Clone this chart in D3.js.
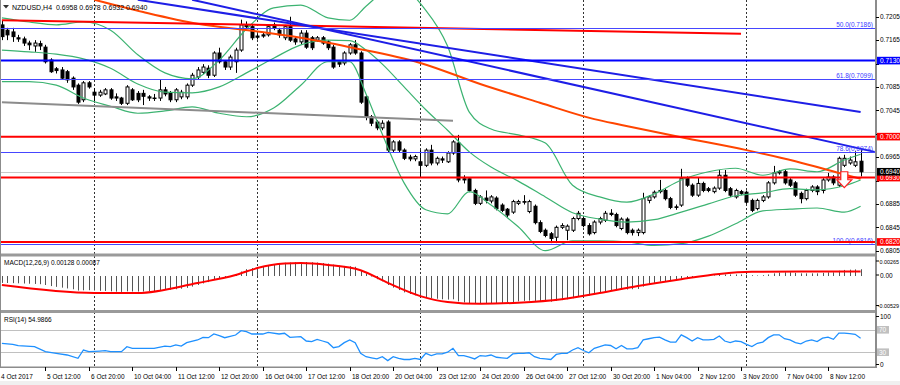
<!DOCTYPE html>
<html><head><meta charset="utf-8">
<script src="https://cdn.jsdelivr.net/npm/d3@7/dist/d3.min.js"></script>
<style>
html,body{margin:0;padding:0;background:#fff;}
svg{display:block;font-family:"Liberation Sans",Arial,sans-serif;}
</style></head><body>
<svg id="chart" width="900" height="385"></svg>
<script>
// ---- data ----
const titleText = "NZDUSD,H4  0.6958 0.6978 0.6932 0.6940";
const macdText = "MACD(12,26,9) 0.00128 0.00087";
const rsiText = "RSI(14) 54.9866";

const timeLabels = ["4 Oct 2017","5 Oct 12:00","6 Oct 20:00","10 Oct 04:00","11 Oct 12:00","12 Oct 20:00",
  "16 Oct 04:00","17 Oct 12:00","18 Oct 20:00","20 Oct 04:00","23 Oct 12:00","24 Oct 20:00","26 Oct 04:00",
  "27 Oct 12:00","30 Oct 20:00","1 Nov 04:00","2 Nov 12:00","3 Nov 20:00","7 Nov 04:00","8 Nov 12:00"];
const timeLabelBars = [0,8,16,24,32,40,48,56,64,72,80,88,96,104,112,120,128,136,144,152];
const gridBars = [17,47,77,107,137];

const priceTicks = [0.6805,0.6845,0.6885,0.6925,0.6965,0.7005,0.7045,0.7085,0.7125,0.7165,0.7205];

const opens = [0.7191,0.7182,0.7179,0.7169,0.7167,0.7160,0.7155,0.7159,0.7153,0.7131,0.7116,0.7114,0.7111,0.7100,0.7088,0.7063,0.7092,0.7076,0.7071,0.7073,
  0.7080,0.7068,0.7066,0.7057,0.7080,0.7074,0.7074,0.7068,0.7066,0.7066,0.7080,0.7075,0.7063,0.7068,0.7068,0.7088,0.7102,0.7110,0.7117,0.7105,
  0.7143,0.7128,0.7119,0.7128,0.7148,0.7191,0.7188,0.7172,0.7174,0.7174,0.7191,0.7182,0.7169,0.7188,0.7167,0.7162,0.7177,0.7169,0.7165,0.7169,
  0.7162,0.7153,0.7128,0.7126,0.7143,0.7157,0.7143,0.7068,0.7034,0.7025,0.7015,0.7025,0.6977,0.6991,0.6977,0.6965,0.6962,0.6957,0.6951,0.6977,
  0.6955,0.6962,0.6957,0.6972,0.6989,0.6928,0.6928,0.6908,0.6886,0.6895,0.6890,0.6895,0.6883,0.6876,0.6871,0.6886,0.6889,0.6872,0.6881,0.6853,
  0.6840,0.6834,0.6828,0.6845,0.6840,0.6840,0.6860,0.6860,0.6848,0.6836,0.6854,0.6857,0.6869,0.6867,0.6843,0.6859,0.6840,0.6836,0.6836,0.6891,
  0.6897,0.6906,0.6908,0.6894,0.6880,0.6883,0.6929,0.6917,0.6900,0.6920,0.6911,0.6906,0.6912,0.6934,0.6911,0.6897,0.6906,0.6905,0.6891,0.6877,
  0.6891,0.6897,0.6921,0.6938,0.6940,0.6926,0.6921,0.6903,0.6894,0.6908,0.6914,0.6908,0.6926,0.6931,0.6917,0.6951,0.6955,0.6951,0.6958];
const highs = [0.7199,0.7186,0.7186,0.7174,0.7171,0.7164,0.7165,0.7164,0.7157,0.7134,0.7119,0.7119,0.7114,0.7103,0.7091,0.7095,0.7095,0.7083,0.7080,0.7083,
  0.7083,0.7074,0.7068,0.7088,0.7083,0.7078,0.7080,0.7071,0.7073,0.7097,0.7085,0.7078,0.7083,0.7080,0.7091,0.7109,0.7119,0.7124,0.7122,0.7146,
  0.7152,0.7131,0.7140,0.7152,0.7200,0.7197,0.7193,0.7176,0.7179,0.7191,0.7195,0.7186,0.7191,0.7205,0.7171,0.7182,0.7182,0.7172,0.7172,0.7172,
  0.7165,0.7157,0.7131,0.7146,0.7160,0.7165,0.7146,0.7071,0.7037,0.7028,0.7028,0.7028,0.6994,0.6994,0.6980,0.6969,0.6969,0.6977,0.6980,0.6986,
  0.6966,0.6966,0.6975,0.6994,0.7003,0.6934,0.6931,0.6911,0.6900,0.6908,0.6900,0.6898,0.6886,0.6878,0.6892,0.6892,0.6900,0.6892,0.6884,0.6857,
  0.6843,0.6837,0.6848,0.6852,0.6850,0.6863,0.6873,0.6863,0.6852,0.6857,0.6863,0.6873,0.6876,0.6870,0.6862,0.6862,0.6843,0.6843,0.6904,0.6900,
  0.6908,0.6926,0.6911,0.6897,0.6884,0.6945,0.6932,0.6920,0.6931,0.6923,0.6914,0.6915,0.6943,0.6943,0.6914,0.6911,0.6909,0.6908,0.6894,0.6894,
  0.6900,0.6924,0.6950,0.6943,0.6943,0.6929,0.6924,0.6906,0.6911,0.6917,0.6917,0.6929,0.6938,0.6934,0.6966,0.6969,0.6966,0.6975,0.6978];
const lows = [0.7165,0.7165,0.7162,0.7162,0.7155,0.7148,0.7145,0.7148,0.7125,0.7109,0.7108,0.7097,0.7092,0.7080,0.7056,0.7059,0.7082,0.7058,0.7068,0.7071,
  0.7063,0.7061,0.7054,0.7054,0.7061,0.7059,0.7054,0.7061,0.7061,0.7061,0.7069,0.7059,0.7059,0.7064,0.7064,0.7085,0.7098,0.7107,0.7100,0.7102,
  0.7125,0.7114,0.7114,0.7109,0.7145,0.7184,0.7165,0.7166,0.7169,0.7171,0.7182,0.7169,0.7165,0.7162,0.7157,0.7157,0.7150,0.7148,0.7162,0.7157,
  0.7148,0.7116,0.7119,0.7122,0.7140,0.7140,0.7056,0.7028,0.7018,0.7011,0.7011,0.6973,0.6973,0.6973,0.6960,0.6958,0.6958,0.6931,0.6948,0.6951,
  0.6951,0.6955,0.6955,0.6969,0.6922,0.6920,0.6905,0.6883,0.6883,0.6886,0.6886,0.6874,0.6871,0.6862,0.6868,0.6883,0.6884,0.6869,0.6850,0.6835,
  0.6828,0.6818,0.6818,0.6842,0.6823,0.6837,0.6857,0.6845,0.6831,0.6833,0.6850,0.6854,0.6864,0.6845,0.6840,0.6833,0.6831,0.6830,0.6833,0.6886,
  0.6894,0.6903,0.6891,0.6876,0.6875,0.6880,0.6914,0.6897,0.6897,0.6905,0.6905,0.6903,0.6909,0.6905,0.6897,0.6894,0.6900,0.6885,0.6871,0.6874,
  0.6888,0.6894,0.6918,0.6935,0.6918,0.6914,0.6897,0.6886,0.6891,0.6905,0.6900,0.6903,0.6923,0.6917,0.6914,0.6948,0.6952,0.6948,0.6932];
const closes = [0.7171,0.7174,0.7171,0.7167,0.7160,0.7157,0.7160,0.7155,0.7128,0.7111,0.7113,0.7100,0.7097,0.7085,0.7059,0.7092,0.7085,0.7071,0.7076,0.7080,
  0.7066,0.7066,0.7057,0.7085,0.7063,0.7063,0.7069,0.7066,0.7066,0.7080,0.7073,0.7063,0.7080,0.7076,0.7088,0.7105,0.7114,0.7119,0.7105,0.7143,
  0.7128,0.7119,0.7136,0.7148,0.7191,0.7188,0.7169,0.7170,0.7172,0.7188,0.7186,0.7174,0.7188,0.7165,0.7162,0.7177,0.7153,0.7152,0.7169,0.7160,
  0.7152,0.7119,0.7124,0.7143,0.7157,0.7143,0.7059,0.7034,0.7023,0.7015,0.7023,0.6977,0.6991,0.6977,0.6963,0.6962,0.6966,0.6951,0.6977,0.6955,
  0.6963,0.6960,0.6972,0.6991,0.6926,0.6926,0.6908,0.6886,0.6897,0.6891,0.6897,0.6877,0.6874,0.6866,0.6889,0.6889,0.6888,0.6889,0.6853,0.6838,
  0.6831,0.6826,0.6845,0.6848,0.6847,0.6860,0.6869,0.6848,0.6834,0.6854,0.6860,0.6869,0.6867,0.6848,0.6859,0.6836,0.6836,0.6840,0.6894,0.6897,
  0.6905,0.6908,0.6894,0.6879,0.6879,0.6929,0.6917,0.6900,0.6920,0.6908,0.6908,0.6912,0.6934,0.6908,0.6900,0.6908,0.6903,0.6888,0.6874,0.6891,
  0.6897,0.6921,0.6938,0.6940,0.6921,0.6917,0.6900,0.6894,0.6908,0.6914,0.6906,0.6926,0.6931,0.6921,0.6963,0.6963,0.6960,0.6957,0.6940];

// Bollinger bands (20,2) read at sample bars
const bbBars = [0,5,10,15,20,25,30,35,40,45,50,55,60,64,67,70,74,78,82,86,90,95,100,105,110,115,120,125,130,135,140,145,150,155,158];
const bbUpper = [0.7203,0.7196,0.7191,0.7196,0.7182,0.7140,0.7109,0.7099,0.7131,0.7184,0.7220,0.7225,0.7203,0.7199,0.7223,0.7244,0.7249,0.7216,0.7155,0.7042,
  0.7013,0.7003,0.6989,0.6917,0.6897,0.6888,0.6902,0.6926,0.6940,0.6946,0.6934,0.6945,0.6940,0.6960,0.6970];
const bbMiddle = [0.7148,0.7145,0.7141,0.7133,0.7117,0.7090,0.7076,0.7075,0.7085,0.7109,0.7134,0.7157,0.7165,0.7164,0.7148,0.7124,0.7085,0.7046,0.7011,0.6974,
  0.6948,0.6924,0.6897,0.6870,0.6859,0.6854,0.6858,0.6871,0.6885,0.6899,0.6904,0.6911,0.6909,0.6916,0.6926];
const bbLower = [0.7094,0.7094,0.7088,0.7066,0.7052,0.7040,0.7044,0.7051,0.7040,0.7034,0.7049,0.7088,0.7128,0.7128,0.7073,0.7004,0.6921,0.6875,0.6868,0.6906,
  0.6883,0.6846,0.6805,0.6822,0.6822,0.6820,0.6814,0.6817,0.6830,0.6851,0.6873,0.6876,0.6878,0.6871,0.6881];

// slow moving average (orange)
const maBars = [17,26,36,46,55,64,77,88,99,109,114,125,137,146,154,158];
const maValues = [0.7234,0.7213,0.7193,0.7181,0.7169,0.7153,0.7126,0.7090,0.7058,0.7030,0.7020,0.6999,0.6977,0.6958,0.6938,0.6928];

// drawn objects
const hLevels = [0.7130,0.7000,0.6930,0.6820];
const hColors = ["#0000ff","#ff0000","#ff0000","#ff0000"];
const fiboNames = ["50.0","61.8","78.6","100.0"];
const fiboValues = [0.7186,0.7099,0.6974,0.6816];
const bidPrice = 0.6940;
const trendLines = [
  {b1:0, p1:0.7199, b2:136, p2:0.7176, color:"#ff0000"},
  {b1:0, p1:0.7059, b2:83, p2:0.7027, color:"#8c8c8c"},
  {b1:25, p1:0.7234, b2:158, p2:0.7042, color:"#1e1ee6"},
  {b1:35, p1:0.7234, b2:160.6, p2:0.6974, color:"#1e1ee6"}
];
const sellArrow = {bar:155, price:0.6940};

const tagValues = [0.7130,0.7000,0.6930,0.6940,0.6820];
const tagColors = ["#0000ff","#ff0000","#ff0000","#000000","#ff0000"];

// MACD main (histogram), one per bar
const macdMain = [-0.00130,-0.00132,-0.00135,-0.00138,-0.00142,-0.00146,-0.00150,-0.00155,-0.00170,-0.00190,-0.00205,
  -0.00220,-0.00235,-0.00250,-0.00275,-0.00270,-0.00268,-0.00275,-0.00280,-0.00282,-0.00290,-0.00295,-0.00300,
  -0.00290,-0.00292,-0.00293,-0.00292,-0.00290,-0.00285,-0.00275,-0.00265,-0.00260,-0.00250,-0.00240,-0.00225,
  -0.00200,-0.00170,-0.00140,-0.00115,-0.00070,-0.00045,-0.00025,0.00000,0.00025,0.00085,0.00130,0.00150,
  0.00170,0.00185,0.00205,0.00225,0.00235,0.00250,0.00255,0.00260,0.00262,0.00265,0.00260,0.00255,
  0.00245,0.00235,0.00215,0.00195,0.00190,0.00185,0.00175,0.00110,0.00050,-0.00010,-0.00060,-0.00100,
  -0.00170,-0.00220,-0.00265,-0.00310,-0.00340,-0.00365,-0.00390,-0.00400,-0.00420,-0.00430,-0.00440,-0.00445,
  -0.00440,-0.00480,-0.00500,-0.00515,-0.00525,-0.00529,-0.00525,-0.00520,-0.00515,-0.00510,-0.00500,-0.00495,
  -0.00480,-0.00470,-0.00465,-0.00470,-0.00480,-0.00485,-0.00485,-0.00470,-0.00455,-0.00440,-0.00420,-0.00395,
  -0.00380,-0.00370,-0.00345,-0.00320,-0.00300,-0.00280,-0.00270,-0.00260,-0.00255,-0.00250,-0.00245,-0.00200,
  -0.00160,-0.00130,-0.00105,-0.00095,-0.00090,-0.00085,-0.00050,-0.00030,-0.00020,-0.00005,0.00000,0.00005,
  0.00010,0.00025,0.00030,0.00030,0.00030,0.00030,0.00025,0.00015,0.00010,0.00015,0.00030,0.00050,
  0.00065,0.00070,0.00070,0.00060,0.00050,0.00050,0.00050,0.00050,0.00060,0.00070,0.00070,0.00100,
  0.00115,0.00120,0.00125,0.00128];
const signalBars = [0,17,25,36,43,47,52,55,60,66,71,77,82,88,95,103,110,117,125,132,138,147,158];
const signalValues = [-0.00170,-0.00321,-0.00321,-0.00132,0.00019,0.00150,0.00235,0.00245,0.00210,0.00110,-0.00130,-0.00380,
  -0.00490,-0.00525,-0.00505,-0.00440,-0.00320,-0.00190,-0.00060,0.00040,0.00080,0.00085,0.00087];

// RSI(14)
const rsiBars = [0,2,3,6,8,10,12,14,15,16,18,19,20,22,23,24,27,28,30,31,32,33,34,36,37,38,39,40,41,43,44,45,46,48,49,51,52,53,55,
  56,57,58,59,60,61,62,63,64,65,66,67,68,69,70,71,72,73,74,75,76,77,78,79,80,81,82,83,84,85,86,87,88,89,90,
  91,92,93,94,95,96,97,98,99,100,101,102,103,104,105,106,107,108,109,110,111,112,113,114,115,116,117,118,119,120,
  121,122,123,124,125,126,127,128,129,130,131,132,133,134,135,136,137,138,139,140,141,142,143,144,145,146,147,148,149,150,
  151,152,153,154,155,156,157,158];
const rsiValues = [45.9,44.1,41.6,39.8,30.9,28,25,19.1,33.9,30.9,32,32.7,30.9,30.9,39.8,37,37,37,41,39.8,42.9,41,47,51.8,56.6,55.9,62.5,59.5,55.9,60.7,68.4,66.6,62.5,62.5,65.5,62.5,63.8,56.6,57.7,
  50,49,53,50,47,38,40,47,52,47,28,22,20,18,22,15,22,19,17,17,19,17,28,24,27,27,30,37,24,24,21,18,24,23,25,
  21,20,19,27,28,28,29,22,19,18,17,26,28,28,34,38,33,29,37,40,43,42,36,42,36,36,38,52,54,56,
  57,52,48,48,61,56,50,56,52,52,53,59,50,47,50,49,44,40,46,48,56,61,61,54,52,47,45,50,52,49,
  55,57,53,64,64,63,62,55];

// ---- layout ----
const plotRight = 876;
const pricePane = [0, 253], macdPane = [257, 310], rsiPane = [313, 366];
const axisY = 367;

const svg = d3.select("#chart");
const x = d3.scaleLinear().domain([0, 158]).range([1.9, 860.6]);
const yP = d3.scaleLinear().domain([0.68011, 0.72336]).range([253, 0]);
const yM = d3.scaleLinear().domain([-0.00529, 0.00265]).range([304, 262]);
const yR = d3.scaleLinear().domain([0, 100]).range([369, 313]);
const px = i => Math.round(x(i)) + 0.5;

svg.append("rect").attr("width", 900).attr("height", 385).attr("fill", "#fff");
svg.append("rect").attr("x", 0).attr("y", 381).attr("width", 900).attr("height", 4).attr("fill", "#f0f0f0");

const defs = svg.append("defs");
[["clipP", pricePane], ["clipM", macdPane], ["clipR", rsiPane]].forEach(([id, r]) => {
  defs.append("clipPath").attr("id", id).append("rect")
    .attr("x", 0).attr("y", r[0]).attr("width", plotRight).attr("height", r[1] - r[0]);
});

// vertical dotted grid through all panes
svg.append("g").selectAll("line").data(gridBars).join("line")
  .attr("x1", d => px(d)).attr("x2", d => px(d))
  .attr("y1", 0).attr("y2", axisY)
  .attr("stroke", "#333").attr("stroke-dasharray", "2,2").attr("stroke-width", 1);

// ---- price pane ----
const pg = svg.append("g").attr("clip-path", "url(#clipP)");

// bid line
pg.append("line").attr("x1", 0).attr("x2", plotRight)
  .attr("y1", Math.round(yP(bidPrice)) + 0.5).attr("y2", Math.round(yP(bidPrice)) + 0.5)
  .attr("stroke", "#c8c8c8");

const bars = d3.range(opens.length).map(i => ({i, o: opens[i], h: highs[i], l: lows[i], c: closes[i]}));
const cg = pg.append("g");
cg.selectAll("line").data(bars).join("line")
  .attr("x1", d => px(d.i)).attr("x2", d => px(d.i))
  .attr("y1", d => yP(d.h)).attr("y2", d => yP(d.l))
  .attr("stroke", "#000");
cg.selectAll("rect").data(bars).join("rect")
  .attr("x", d => px(d.i) - 1.5).attr("width", 3)
  .attr("y", d => yP(Math.max(d.o, d.c)))
  .attr("height", d => Math.max(0.5, Math.abs(yP(d.o) - yP(d.c))))
  .attr("fill", d => d.c >= d.o ? "#fff" : "#000")
  .attr("stroke", "#000");

// bollinger bands
const bbLine = arr => d3.line().x((d, k) => x(bbBars[k])).y(d => yP(d)).curve(d3.curveMonotoneX)(arr);
[bbUpper, bbMiddle, bbLower].forEach(arr => {
  pg.append("path").attr("d", bbLine(arr)).attr("fill", "none")
    .attr("stroke", "#3cb371").attr("stroke-width", 1.2);
});

// moving average
pg.append("path")
  .attr("d", d3.line().x((d, k) => x(maBars[k])).y(d => yP(d)).curve(d3.curveMonotoneX)(maValues))
  .attr("fill", "none").attr("stroke", "#ff4500").attr("stroke-width", 2);

// trend lines
pg.selectAll("line.tl").data(trendLines).join("line").attr("class", "tl")
  .attr("x1", d => x(d.b1)).attr("y1", d => yP(d.p1))
  .attr("x2", d => x(d.b2)).attr("y2", d => yP(d.p2))
  .attr("stroke", d => d.color).attr("stroke-width", 2);

// fibonacci levels
const fib = pg.append("g");
fib.selectAll("line").data(fiboValues).join("line")
  .attr("x1", 0).attr("x2", plotRight)
  .attr("y1", d => Math.round(yP(d)) + 0.5).attr("y2", d => Math.round(yP(d)) + 0.5)
  .attr("stroke", "#4646ff").attr("stroke-width", 1);
fib.selectAll("text").data(fiboValues).join("text")
  .attr("x", 873).attr("y", d => Math.round(yP(d)) - 1.5)
  .attr("text-anchor", "end").attr("font-size", 6.5).attr("fill", "#3c3cff")
  .text((d, k) => `${fiboNames[k]}(${d.toFixed(4)})`);

// horizontal lines
pg.selectAll("line.hl").data(hLevels).join("line").attr("class", "hl")
  .attr("x1", 0).attr("x2", plotRight)
  .attr("y1", d => yP(d)).attr("y2", d => yP(d))
  .attr("stroke", (d, k) => hColors[k]).attr("stroke-width", 2);

// sell arrow
const ax = x(sellArrow.bar), ay = yP(sellArrow.price);
pg.append("path")
  .attr("d", `M${ax - 3.5},${ay} h7 v8 h4 l-7.5,8 l-7.5,-8 h4 z`)
  .attr("fill", "#fff").attr("stroke", "#ff2020").attr("stroke-width", 1.2);

// ---- MACD pane ----
const mg = svg.append("g").attr("clip-path", "url(#clipM)");
mg.selectAll("line").data(macdMain).join("line")
  .attr("x1", (d, i) => px(i)).attr("x2", (d, i) => px(i))
  .attr("y1", yM(0)).attr("y2", d => yM(d))
  .attr("stroke", "#555").attr("stroke-width", 1);
mg.append("path")
  .attr("d", d3.line().x((d, k) => x(signalBars[k])).y(d => yM(d)).curve(d3.curveMonotoneX)(signalValues))
  .attr("fill", "none").attr("stroke", "#ff0000").attr("stroke-width", 2);

// ---- RSI pane ----
const rg = svg.append("g").attr("clip-path", "url(#clipR)");
[70, 30].forEach(v => {
  rg.append("line").attr("x1", 0).attr("x2", plotRight)
    .attr("y1", Math.round(yR(v)) + 0.5).attr("y2", Math.round(yR(v)) + 0.5)
    .attr("stroke", "#c0c0c0");
});
rg.append("path")
  .attr("d", d3.line().x((d, k) => x(rsiBars[k])).y(d => yR(d))(rsiValues))
  .attr("fill", "none").attr("stroke", "#1e90ff").attr("stroke-width", 1.3);

// ---- frames and separators ----
svg.append("rect").attr("x", 0).attr("y", 253.5).attr("width", plotRight).attr("height", 3).attr("fill", "#9a9a9a");
svg.append("rect").attr("x", 0).attr("y", 310).attr("width", plotRight).attr("height", 3).attr("fill", "#9a9a9a");
svg.append("line").attr("x1", 0.5).attr("x2", 0.5).attr("y1", 0).attr("y2", axisY).attr("stroke", "#8c8c8c");
svg.append("rect").attr("x", plotRight - 1).attr("y", 0).attr("width", 2).attr("height", axisY + 1).attr("fill", "#8c8c8c");
svg.append("rect").attr("x", 0).attr("y", axisY - 0.5).attr("width", plotRight + 1).attr("height", 1.5).attr("fill", "#8c8c8c");

// ---- right price axis ----
// labels hidden under a coloured price tag are left out, as in the terminal
const freeTicks = priceTicks.filter(t => !tagValues.some(v => Math.abs(v - t) < 0.0009));
const ra = svg.append("g").attr("font-size", 6.5).attr("fill", "#000");
ra.selectAll("line").data(priceTicks).join("line")
  .attr("x1", plotRight).attr("x2", plotRight + 3)
  .attr("y1", d => Math.round(yP(d)) + 0.5).attr("y2", d => Math.round(yP(d)) + 0.5)
  .attr("stroke", "#000");
ra.selectAll("text").data(freeTicks).join("text")
  .attr("x", 880).attr("y", d => yP(d) + 2.3)
  .text(d => d.toFixed(4));

const tags = svg.append("g").attr("font-size", 6.5);
tagValues.forEach((v, k) => {
  const cy = yP(v);
  tags.append("rect").attr("x", 877).attr("y", cy - 3.8).attr("width", 23).attr("height", 7.6).attr("fill", tagColors[k]);
  tags.append("text").attr("x", 880).attr("y", cy + 2.3).attr("fill", "#fff").text(v.toFixed(4));
});

// MACD / RSI scale labels (long ones right-aligned so they stay inside the window)
const macdScaleText = ["0.00265", "0.00", "-0.00529"];
const macdScaleY = [261.5, 275.5, 306];
macdScaleText.forEach((t, k) => {
  svg.append("line").attr("x1", plotRight).attr("x2", plotRight + 3)
    .attr("y1", macdScaleY[k] - 0.5).attr("y2", macdScaleY[k] - 0.5).attr("stroke", "#000");
  const long = t.length > 5;
  svg.append("text")
    .attr("x", long ? 899 : 880).attr("text-anchor", long ? "end" : "start")
    .attr("y", macdScaleY[k] + 2.2).attr("font-size", long ? 5.4 : 6.5).text(t);
});
[[100, 317], [0, 365]].forEach(([v, yy]) => {
  svg.append("line").attr("x1", plotRight).attr("x2", plotRight + 3).attr("y1", yy - 0.5).attr("y2", yy - 0.5).attr("stroke", "#000");
  svg.append("text").attr("x", 880).attr("y", yy + 2.3).attr("font-size", 6.5).text(v);
});
[70, 30].forEach(v => {
  const cy = yR(v);
  svg.append("rect").attr("x", 877).attr("y", cy - 3.8).attr("width", 12).attr("height", 7.6).attr("fill", "#c0c0c0");
  svg.append("text").attr("x", 879).attr("y", cy + 2.3).attr("font-size", 6.5).attr("fill", "#fff").text(v);
});

// ---- time axis ----
const ta = svg.append("g").attr("font-size", 6.5).attr("fill", "#000");
ta.selectAll("line").data(timeLabelBars.slice(1)).join("line")
  .attr("x1", d => px(d)).attr("x2", d => px(d))
  .attr("y1", axisY).attr("y2", axisY + 4).attr("stroke", "#000");
ta.selectAll("text").data(timeLabels).join("text")
  .attr("x", (d, k) => k === 0 ? 1 : px(timeLabelBars[k]) + 1.5)
  .attr("y", 379)
  .text(d => d);

// ---- pane titles ----
svg.append("path").attr("d", "M3,5 h6 l-3,3.5 z").attr("fill", "#333");
svg.append("text").attr("x", 12).attr("y", 9.5).attr("font-size", 7).attr("fill", "#000")
  .attr("xml:space", "preserve").text(titleText);
svg.append("text").attr("x", 4).attr("y", 265).attr("font-size", 6.5).text(macdText);
svg.append("text").attr("x", 4).attr("y", 322).attr("font-size", 6.5).text(rsiText);
</script>
</body></html>
